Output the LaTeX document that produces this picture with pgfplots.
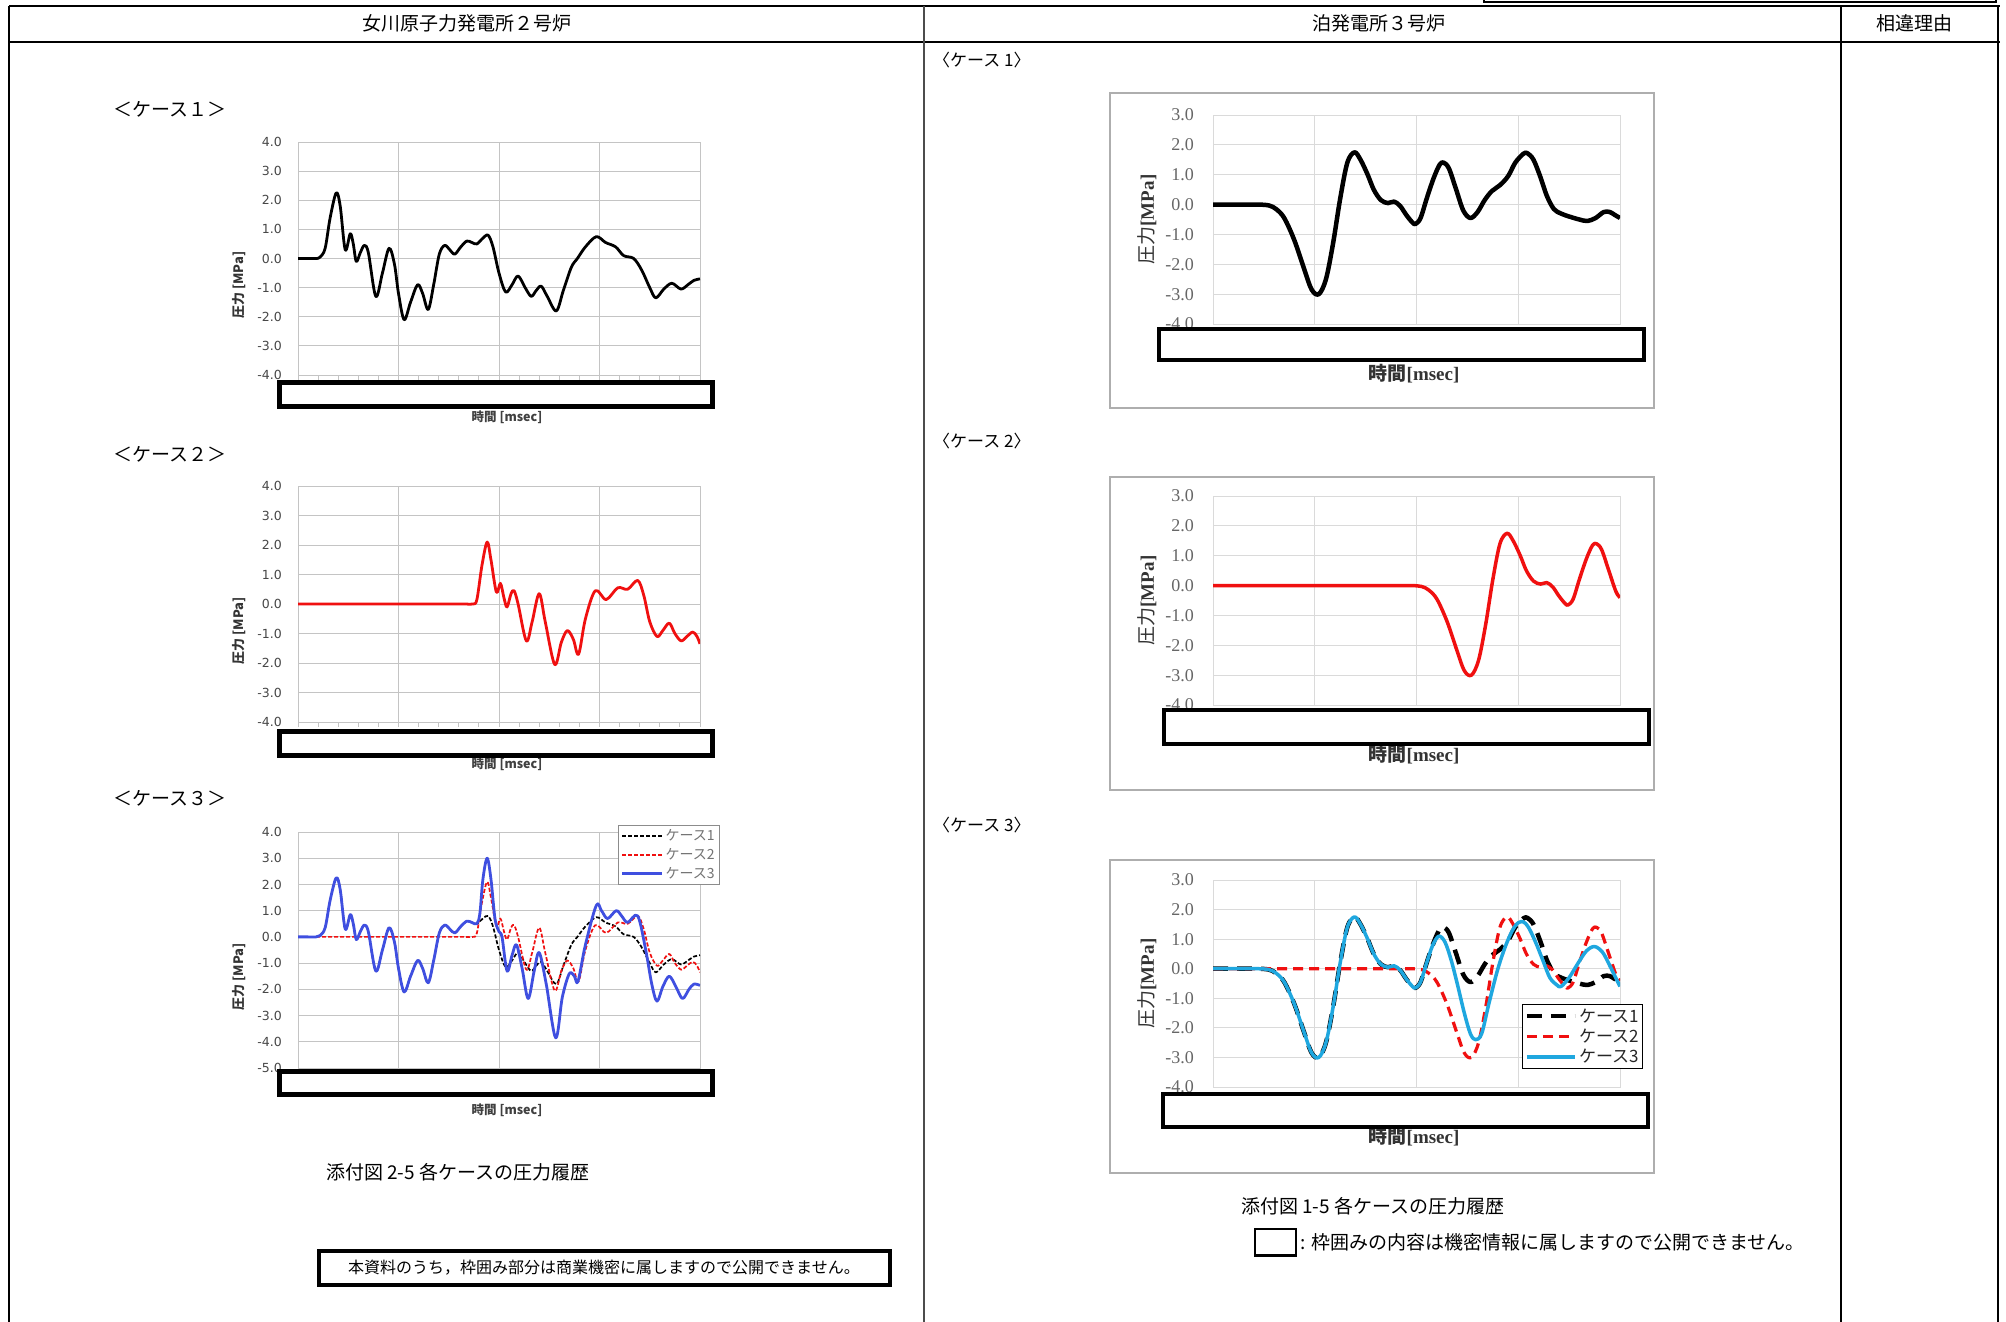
\documentclass[border=0pt]{standalone}
\usepackage{pgfplots}
\pgfplotsset{compat=1.18}
\usepackage{pgfplotstable}
\usepackage{fontspec}
\setmainfont{Liberation Serif}
\newfontfamily\cjk{Noto Sans CJK JP}
\newfontfamily\lsans{DejaVu Sans}
\definecolor{lgrid}{HTML}{C4C4C4}
\definecolor{rgrid}{HTML}{DADADA}
\definecolor{lblue}{HTML}{3F4FE0}
\definecolor{rcyan}{HTML}{1FA7DF}
\definecolor{ered}{HTML}{F01010}

% ---------------- left-hand data (x: 0..20 grid units) ----------------
\pgfplotstableread{
x y
0 0
0.5 0
0.9 0
1.1 0.05
1.35 0.35
1.6 1.4
1.9 2.25
2.1 1.8
2.35 0.3
2.6 0.85
2.75 0.5
2.9 -0.1
3.1 0.2
3.3 0.45
3.5 0.2
3.87 -1.3
4.2 -0.5
4.53 0.35
4.8 -0.2
5.0 -1.2
5.28 -2.1
5.6 -1.5
5.95 -0.9
6.2 -1.2
6.48 -1.75
6.75 -0.9
7.03 0.15
7.3 0.45
7.55 0.3
7.8 0.15
8.1 0.4
8.4 0.6
8.65 0.55
8.9 0.5
9.2 0.7
9.46 0.8
9.7 0.4
10.0 -0.5
10.33 -1.15
10.65 -0.9
10.95 -0.6
11.3 -1.0
11.6 -1.3
11.85 -1.1
12.1 -0.95
12.4 -1.3
12.85 -1.8
13.2 -1.1
13.6 -0.3
13.9 0.0
14.3 0.4
14.84 0.75
15.3 0.55
15.8 0.4
16.2 0.1
16.7 0.0
17.1 -0.4
17.5 -1.0
17.8 -1.35
18.2 -1.05
18.6 -0.85
19.05 -1.05
19.4 -0.9
19.7 -0.75
20 -0.7
}\LcaseA

\pgfplotstableread{
x y
0 0
2 0
4 0
6 0
7.5 0
8.3 0
8.7 0
8.9 0.15
9.15 1.3
9.41 2.1
9.6 1.5
9.87 0.4
10.07 0.7
10.25 0.2
10.4 -0.1
10.6 0.35
10.75 0.45
10.95 0.0
11.36 -1.25
11.65 -0.6
12.0 0.35
12.3 -0.6
12.77 -2.05
13.1 -1.3
13.4 -0.9
13.7 -1.2
13.96 -1.7
14.3 -0.5
14.79 0.45
15.33 0.15
15.91 0.55
16.4 0.5
16.9 0.8
17.2 0.3
17.5 -0.6
17.86 -1.1
18.15 -0.9
18.47 -0.65
18.75 -1.0
19.06 -1.25
19.35 -1.1
19.64 -0.95
19.85 -1.1
20 -1.35
}\LcaseB

\pgfplotstableread{
x y
0 0
0.5 0
0.9 0
1.1 0.05
1.35 0.35
1.6 1.4
1.9 2.25
2.1 1.8
2.35 0.3
2.6 0.85
2.75 0.5
2.9 -0.1
3.1 0.2
3.3 0.45
3.5 0.2
3.87 -1.3
4.2 -0.5
4.53 0.35
4.8 -0.2
5.0 -1.2
5.28 -2.1
5.6 -1.5
5.95 -0.9
6.2 -1.2
6.48 -1.75
6.75 -0.9
7.03 0.15
7.3 0.45
7.55 0.3
7.8 0.15
8.1 0.4
8.4 0.6
8.65 0.55
8.9 0.5
9.05 0.9
9.2 2.2
9.41 3.0
9.6 2.2
9.8 0.7
10.0 0.2
10.15 0.0
10.4 -1.3
10.65 -0.7
10.87 -0.3
11.15 -1.2
11.45 -2.35
11.75 -1.3
12.0 -0.6
12.35 -1.8
12.82 -3.85
13.15 -2.3
13.5 -1.4
13.75 -1.5
13.93 -1.7
14.3 -0.3
14.84 1.2
15.1 1.0
15.4 0.7
15.83 1.0
16.1 0.8
16.4 0.55
16.9 0.8
17.3 -0.5
17.6 -1.8
17.86 -2.45
18.15 -1.9
18.47 -1.5
18.8 -1.9
19.13 -2.35
19.45 -2.0
19.7 -1.8
20 -1.85
}\LcaseC

% ---------------- right-hand data (x: 0..4 grid units) ----------------
\pgfplotstableread{
x y
0 0
0.2 0
0.35 0
0.45 0
0.55 -0.03
0.62 -0.15
0.7 -0.45
0.8 -1.2
0.9 -2.2
0.97 -2.85
1.04 -3.0
1.11 -2.5
1.18 -1.3
1.25 0.2
1.32 1.4
1.39 1.75
1.45 1.5
1.52 1.0
1.58 0.5
1.65 0.15
1.72 0.05
1.78 0.1
1.84 -0.05
1.9 -0.35
1.96 -0.6
1.99 -0.65
2.04 -0.45
2.1 0.2
2.17 0.9
2.23 1.35
2.27 1.4
2.32 1.2
2.39 0.5
2.46 -0.2
2.53 -0.45
2.6 -0.25
2.67 0.15
2.74 0.45
2.82 0.65
2.9 0.95
2.97 1.4
3.05 1.7
3.09 1.72
3.15 1.5
3.22 0.9
3.28 0.3
3.35 -0.15
3.42 -0.3
3.5 -0.4
3.6 -0.5
3.68 -0.55
3.76 -0.45
3.84 -0.25
3.9 -0.25
3.95 -0.35
4.0 -0.45
}\RcaseA

\pgfplotstableread{
x y
0 0
0.5 0
1.0 0
1.5 0
1.8 0
1.95 0
2.05 -0.03
2.12 -0.15
2.2 -0.45
2.3 -1.2
2.4 -2.2
2.47 -2.85
2.54 -3.0
2.61 -2.5
2.68 -1.3
2.75 0.2
2.82 1.4
2.89 1.75
2.95 1.5
3.02 1.0
3.08 0.5
3.15 0.15
3.22 0.05
3.28 0.1
3.34 -0.05
3.4 -0.35
3.46 -0.6
3.49 -0.65
3.54 -0.45
3.6 0.2
3.67 0.9
3.73 1.35
3.77 1.4
3.82 1.2
3.89 0.5
3.96 -0.2
4.0 -0.4
}\RcaseB

\pgfplotstableread{
x y
0 0
0.2 0
0.35 0
0.45 0
0.55 -0.03
0.62 -0.15
0.7 -0.45
0.8 -1.2
0.9 -2.2
0.97 -2.85
1.04 -3.0
1.11 -2.5
1.18 -1.3
1.25 0.2
1.32 1.4
1.39 1.75
1.45 1.5
1.52 1.0
1.58 0.5
1.65 0.15
1.72 0.05
1.78 0.1
1.84 -0.05
1.9 -0.35
1.96 -0.6
1.99 -0.65
2.04 -0.45
2.1 0.2
2.16 0.8
2.22 1.1
2.28 0.9
2.34 0.3
2.4 -0.5
2.47 -1.5
2.53 -2.2
2.58 -2.4
2.64 -2.2
2.71 -1.2
2.8 0.0
2.89 0.9
2.97 1.45
3.04 1.6
3.1 1.4
3.17 0.9
3.24 0.3
3.31 -0.3
3.38 -0.55
3.42 -0.6
3.5 -0.3
3.59 0.2
3.67 0.6
3.75 0.75
3.83 0.55
3.9 0.1
3.95 -0.25
4.0 -0.6
}\RcaseC

\pgfplotsset{
  lchart/.style={
    scale only axis, anchor=south west, width=402pt,
    xmin=0, xmax=20, ymax=4,
    xtick={0,5,10,15,20}, minor xtick={0,1,...,20}, xticklabels={},
    grid=major, major grid style={lgrid, line width=0.9pt},
    axis line style={lgrid, line width=0.9pt},
    tick align=outside, major tick length=5pt, minor tick length=5pt,
    xtick style={lgrid, line width=0.9pt}, ytick style={draw=none},
    xtick pos=left, ytick pos=left,
    yticklabel style={font=\lsans\fontsize{12.5}{12.5}\selectfont, text=black!72, inner sep=0pt, xshift=-11pt},
    ylabel style={font=\cjk\bfseries\fontsize{13}{13}\selectfont, text=black!80, at={(axis description cs:-0.147,0.386)}, anchor=center},
    xlabel style={font=\cjk\bfseries\fontsize{12.5}{12.5}\selectfont, text=black!75, at={(axis description cs:0.52,0)}, anchor=center, yshift=-42pt},
    ylabel={圧力 [MPa]}, xlabel={時間 [msec]},
    every axis plot/.append style={smooth, tension=0.55, line join=round},
  },
  rchart/.style={
    scale only axis, anchor=south west, width=407pt,
    xmin=0, xmax=4, ymin=-4, ymax=3,
    xtick={0,1,2,3,4}, xticklabels={},
    ytick={-4,-3,...,3}, yticklabels={-4.0,-3.0,-2.0,-1.0,0.0,1.0,2.0,3.0},
    grid=major, major grid style={rgrid, line width=0.9pt},
    axis line style={rgrid, line width=0.9pt},
    tick style={draw=none}, major tick length=0pt,
    yticklabel style={font=\fontsize{18}{18}\selectfont, text=black!60, inner sep=0pt, xshift=-19pt},
    ylabel style={font=\fontsize{19}{19}\selectfont, text=black!80, at={(axis description cs:-0.162,0.5)}, anchor=center},
    xlabel style={font=\fontsize{19}{19}\selectfont, text=black!80, at={(axis description cs:0.494,0)}, anchor=center, yshift=-50pt},
    ylabel={{\cjk 圧力}\textbf{[MPa]}}, xlabel={{\cjk\bfseries 時間}\textbf{[msec]}},
    every axis plot/.append style={smooth, tension=0.55, line join=round},
  },
}

\begin{document}
\begin{tikzpicture}
\useasboundingbox (0pt,0pt) rectangle (2006pt,-1322pt);
\fill[white] (0pt,0pt) rectangle (2006pt,-1322pt);

% ---- table frame ----
\draw[line width=2pt] (1484pt,1pt) -- (1484pt,-2pt) -- (1996pt,-2pt) -- (1996pt,1pt);
\draw[line width=2.5pt] (9pt,-6pt) -- (2000pt,-6pt);
\draw[line width=2.5pt] (9pt,-42pt) -- (2000pt,-42pt);
\draw[line width=2.5pt] (9pt,-6pt) -- (9pt,-1322pt);
\draw[line width=2pt, black!70] (924pt,-6pt) -- (924pt,-1322pt);
\draw[line width=2.5pt] (1841pt,-6pt) -- (1841pt,-1322pt);
\draw[line width=2.5pt] (1998pt,-6pt) -- (1998pt,-1322pt);

\begin{scope}[every node/.style={font=\cjk\fontsize{19}{19}\selectfont, inner sep=0pt}]
\node at (467pt,-23pt) {女川原子力発電所２号炉};
\node at (1379pt,-23pt) {泊発電所３号炉};
\node at (1914pt,-23pt) {相違理由};
\node[anchor=west] at (113pt,-109pt) {＜ケース１＞};
\node[anchor=west] at (113pt,-454pt) {＜ケース２＞};
\node[anchor=west] at (113pt,-798pt) {＜ケース３＞};
\node[anchor=west, font=\cjk\fontsize{17}{17}\selectfont] at (933pt,-60pt) {〈ケース 1〉};
\node[anchor=west, font=\cjk\fontsize{17}{17}\selectfont] at (933pt,-441pt) {〈ケース 2〉};
\node[anchor=west, font=\cjk\fontsize{17}{17}\selectfont] at (933pt,-825pt) {〈ケース 3〉};
\node[anchor=west] at (326pt,-1172pt) {添付図 2-5 各ケースの圧力履歴};
\node[anchor=west] at (1241pt,-1206pt) {添付図 1-5 各ケースの圧力履歴};
\end{scope}

% ---- right chart frames ----
\draw[rgrid!80!black, line width=1.2pt] (1110pt,-93pt) rectangle (1654pt,-408pt);
\draw[rgrid!80!black, line width=1.2pt] (1110pt,-477pt) rectangle (1654pt,-790pt);
\draw[rgrid!80!black, line width=1.2pt] (1110pt,-860pt) rectangle (1654pt,-1173pt);

% ---- left chart 1 ----
\begin{axis}[lchart, at={(298pt,-375pt)}, height=233pt, ymin=-4,
  ytick={-4,-3,...,4}, yticklabels={-4.0,-3.0,-2.0,-1.0,0.0,1.0,2.0,3.0,4.0}]
\addplot[black, line width=2.8pt] table {\LcaseA};
\end{axis}
\draw[line width=5pt, fill=white] (279.5pt,-382.5pt) rectangle (712.5pt,-406.5pt);

% ---- left chart 2 ----
\begin{axis}[lchart, at={(298pt,-722pt)}, height=236pt, ymin=-4,
  ytick={-4,-3,...,4}, yticklabels={-4.0,-3.0,-2.0,-1.0,0.0,1.0,2.0,3.0,4.0}]
\addplot[ered, line width=2.8pt] table {\LcaseB};
\end{axis}
\draw[line width=5pt, fill=white] (279.5pt,-731.5pt) rectangle (712.5pt,-755.5pt);

% ---- left chart 3 ----
\begin{axis}[lchart, at={(298pt,-1068pt)}, height=236pt, ymin=-5,
  ytick={-5,-4,...,4}, yticklabels={-5.0,-4.0,-3.0,-2.0,-1.0,0.0,1.0,2.0,3.0,4.0},
  legend style={at={(axis description cs:0.796,1.03)}, anchor=north west,
    draw=black!45, line width=0.8pt, fill=white,
    font=\cjk\fontsize{14}{14}\selectfont, text=black!55,
    inner sep=2.5pt, row sep=2pt, legend cell align=left},
  legend image code/.code={\draw[#1] (0pt,0pt) -- (40pt,0pt);}]
\addplot[black, line width=1.7pt, dash pattern=on 4pt off 2pt] table {\LcaseA};
\addlegendentry{ケース1}
\addplot[ered, line width=1.7pt, dash pattern=on 4pt off 2pt] table {\LcaseB};
\addlegendentry{ケース2}
\addplot[lblue, line width=2.8pt] table {\LcaseC};
\addlegendentry{ケース3}
\end{axis}
\draw[line width=5pt, fill=white] (279.5pt,-1071.5pt) rectangle (712.5pt,-1094.5pt);

% ---- right chart 1 ----
\begin{axis}[rchart, at={(1213pt,-324pt)}, height=209pt]
\addplot[black, line width=4.5pt] table {\RcaseA};
\end{axis}
\draw[line width=4pt, fill=white] (1159pt,-329pt) rectangle (1644pt,-360pt);

% ---- right chart 2 ----
\begin{axis}[rchart, at={(1213pt,-705pt)}, height=209pt]
\addplot[ered, line width=3.5pt] table {\RcaseB};
\end{axis}
\draw[line width=4pt, fill=white] (1164pt,-710pt) rectangle (1649pt,-744pt);

% ---- right chart 3 ----
\begin{axis}[rchart, at={(1213pt,-1087pt)}, height=207pt,
  legend style={at={(axis description cs:0.759,0.401)}, anchor=north west,
    draw=black, line width=1.2pt, fill=white,
    font=\cjk\fontsize{17}{17}\selectfont, text=black!85,
    inner sep=2pt, row sep=1.5pt, legend cell align=left},
  legend image code/.code={\draw[#1] (0pt,0pt) -- (48pt,0pt);}]
\addplot[black, line width=4.5pt, dash pattern=on 15pt off 9pt] table {\RcaseA};
\addlegendentry{ケース1}
\addplot[ered, line width=3.2pt, dash pattern=on 10pt off 6pt] table {\RcaseB};
\addlegendentry{ケース2}
\addplot[rcyan, line width=3.5pt] table {\RcaseC};
\addlegendentry{ケース3}
\end{axis}
\draw[line width=4pt, fill=white] (1163pt,-1094pt) rectangle (1648pt,-1127pt);

% ---- bottom notes ----
\draw[line width=4pt, fill=white] (319pt,-1251pt) rectangle (890pt,-1285pt);
\node[font=\cjk\fontsize{16}{16}\selectfont, inner sep=0pt] at (604pt,-1268pt) {本資料のうち，枠囲み部分は商業機密に属しますので公開できません。};
\draw[line width=1.5pt] (1255pt,-1229pt) rectangle (1296pt,-1255pt);
\draw[line width=3pt] (1254pt,-1255pt) -- (1297pt,-1255pt);
\node[anchor=west, font=\cjk\fontsize{19}{19}\selectfont, inner sep=0pt] at (1300pt,-1242pt) {: 枠囲みの内容は機密情報に属しますので公開できません。};
\end{tikzpicture}
\end{document}
